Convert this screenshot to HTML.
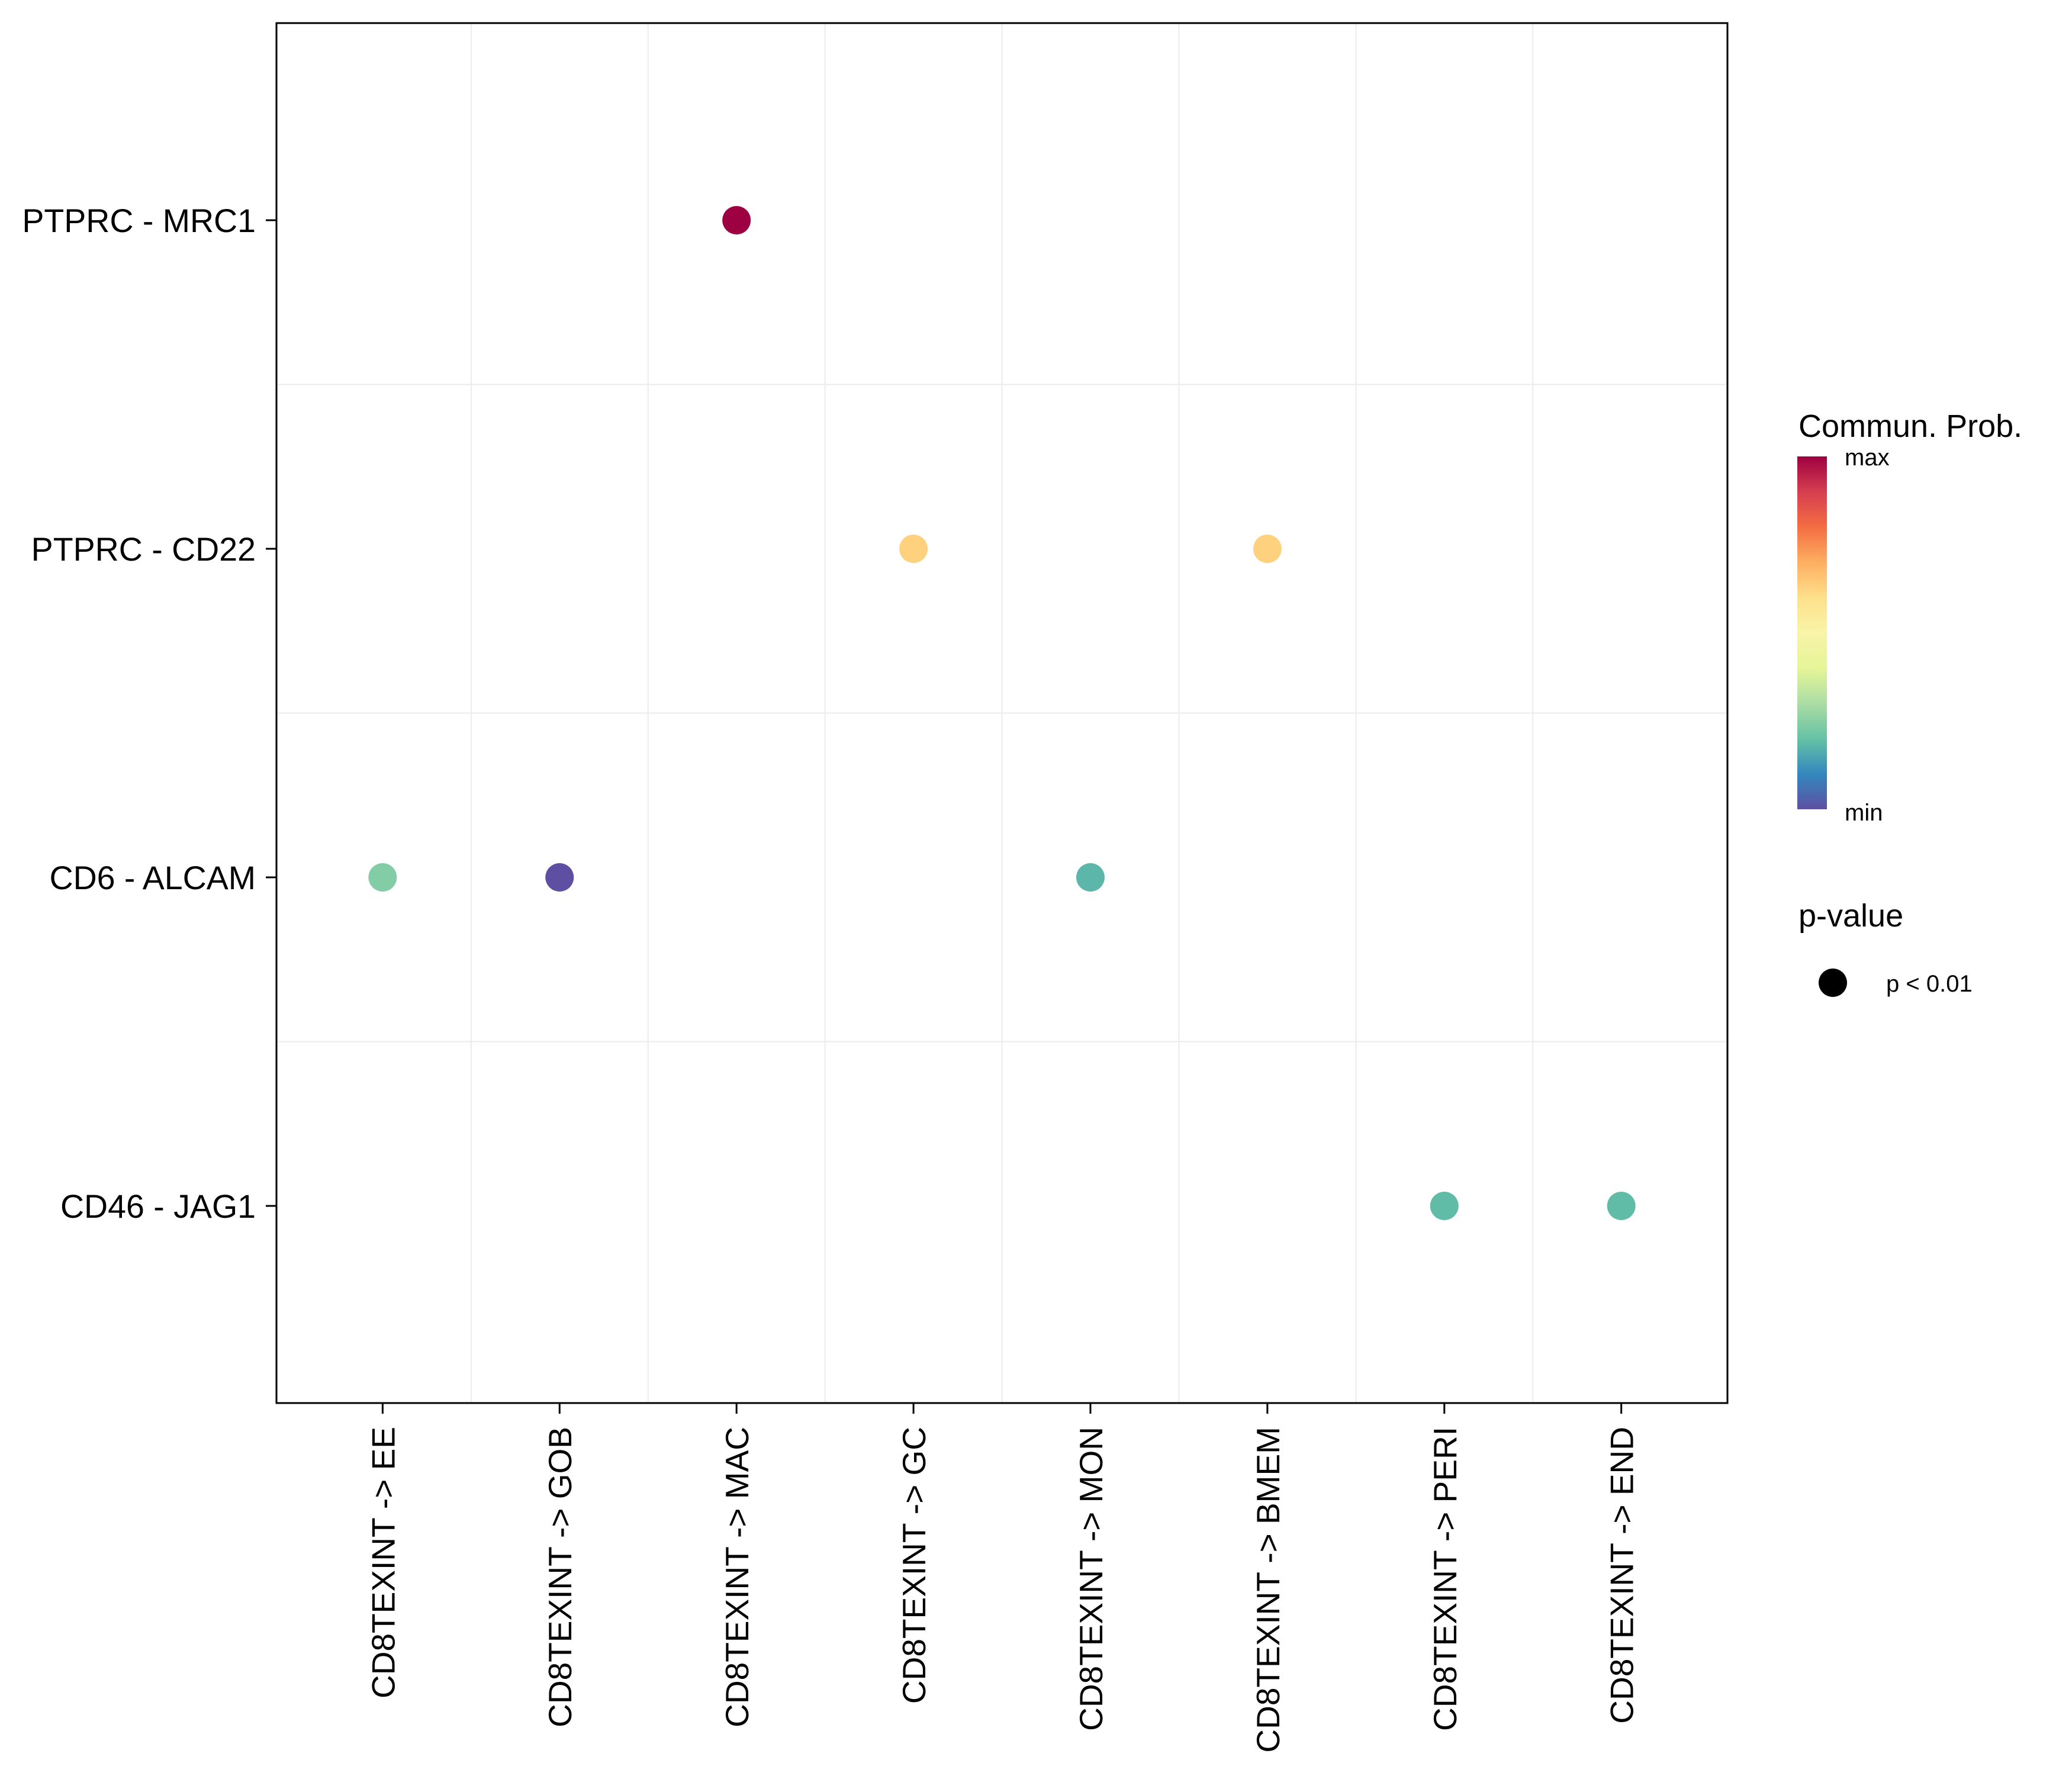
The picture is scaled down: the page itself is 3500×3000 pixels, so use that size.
<!DOCTYPE html>
<html><head><meta charset="utf-8"><style>
html,body{margin:0;padding:0;background:#fff;}
svg{display:block;font-family:"Liberation Sans",Arial,sans-serif;}
</style></head><body>
<svg id="chart" width="3500" height="3000" viewBox="0 0 3500 3000" xmlns="http://www.w3.org/2000/svg">
<defs>
<linearGradient id="spec" x1="0" y1="1" x2="0" y2="0">
<stop offset="0" stop-color="#5E4FA2"/><stop offset="0.1" stop-color="#3288BD"/><stop offset="0.2" stop-color="#66C2A5"/><stop offset="0.3" stop-color="#ABDDA4"/><stop offset="0.4" stop-color="#E6F598"/><stop offset="0.5" stop-color="#F8F4A8"/><stop offset="0.6" stop-color="#FEE08B"/><stop offset="0.7" stop-color="#FDAE61"/><stop offset="0.8" stop-color="#F46D43"/><stop offset="0.9" stop-color="#D53E4F"/><stop offset="1" stop-color="#9E0142"/>
</linearGradient>
</defs>
<rect x="467" y="39" width="2451" height="2331" fill="#fff"/>
<g id="grid"></g>
<g id="marks"></g>
<rect x="467" y="39" width="2451" height="2331" fill="none" stroke="#000" stroke-width="3"/>
<g id="yaxis"></g>
<g id="xaxis"></g>
<g>
<text x="3038" y="738" font-size="54">Commun. Prob.</text>
<rect x="3036" y="771" width="50" height="596" fill="url(#spec)"/>
<text x="3116" y="786" font-size="40">max</text>
<text x="3116" y="1386" font-size="40">min</text>
</g>
<g>
<text x="3038" y="1565" font-size="54">p-value</text>
<circle cx="3096" cy="1660" r="24" fill="#000"/>
<text x="3186" y="1675" font-size="40">p &lt; 0.01</text>
</g>
</svg>
<script>
const xCategories = ["CD8TEXINT -> EE","CD8TEXINT -> GOB","CD8TEXINT -> MAC","CD8TEXINT -> GC","CD8TEXINT -> MON","CD8TEXINT -> BMEM","CD8TEXINT -> PERI","CD8TEXINT -> END"];
const yCategories = ["PTPRC - MRC1","PTPRC - CD22","CD6 - ALCAM","CD46 - JAG1"];
const pointX = ["CD8TEXINT -> MAC","CD8TEXINT -> GC","CD8TEXINT -> BMEM","CD8TEXINT -> EE","CD8TEXINT -> GOB","CD8TEXINT -> MON","CD8TEXINT -> PERI","CD8TEXINT -> END"];
const pointY = ["PTPRC - MRC1","PTPRC - CD22","PTPRC - CD22","CD6 - ALCAM","CD6 - ALCAM","CD6 - ALCAM","CD46 - JAG1","CD46 - JAG1"];
const pointProb = [1.0, 0.63, 0.63, 0.24, 0.0, 0.18, 0.19, 0.19];

const NS = "http://www.w3.org/2000/svg";
const L=467,T=39,R=2918,B=2370;
const xu=(R-L)/(xCategories.length+0.2), yu=(B-T)/(yCategories.length+0.2);
function xPos(c){return L+(xCategories.indexOf(c)+0.6)*xu;}
function yPos(c){return T+(yCategories.indexOf(c)+0.6)*yu;}
const spec=["#5E4FA2","#3288BD","#66C2A5","#ABDDA4","#E6F598","#FFFFBF","#FEE08B","#FDAE61","#F46D43","#D53E4F","#9E0142"];
function colorOf(v){v=Math.max(0,Math.min(1,v))*10;const i=Math.min(9,Math.floor(v)),f=v-i;
 const a=spec[i],b=spec[i+1];const p=s=>[1,3,5].map(k=>parseInt(s.substr(k,2),16));
 const A=p(a),Bc=p(b);return "rgb("+A.map((x,k)=>Math.round(x+(Bc[k]-x)*f)).join(",")+")";}
function mk(tag,attrs,parent){const e=document.createElementNS(NS,tag);for(const k in attrs)e.setAttribute(k,attrs[k]);parent.appendChild(e);return e;}
const grid=document.getElementById('grid');
xCategories.forEach((c,i)=>{
 const x=xPos(c);
 if(i>0){const m=mk('line',{x1:x-xu/2,x2:x-xu/2,y1:T,y2:B,stroke:'#ebebeb','stroke-width':2},grid);
 
 }
});
yCategories.forEach((c,i)=>{
 const y=yPos(c);
 if(i>0){const m=mk('line',{x1:L,x2:R,y1:y-yu/2,y2:y-yu/2,stroke:'#ebebeb','stroke-width':2},grid);
 
 }
});
const marks=document.getElementById('marks');
pointProb.forEach((v,i)=>{
 const c=mk('circle',{cx:xPos(pointX[i]),cy:yPos(pointY[i]),r:24,fill:colorOf(v)},marks);
 
 
});
const ya=document.getElementById('yaxis');
yCategories.forEach(c=>{
 const y=yPos(c);
 const t=mk('line',{x1:L-18,x2:L,y1:y,y2:y,stroke:'#000','stroke-width':3},ya);
 
 
 const tx=mk('text',{x:L-35,y:y+20,'font-size':55.5,'text-anchor':'end'},ya);
 tx.textContent=c;
 
 
});
const xa=document.getElementById('xaxis');
xCategories.forEach(c=>{
 const x=xPos(c);
 const t=mk('line',{x1:x,x2:x,y1:B,y2:B+18,stroke:'#000','stroke-width':3},xa);
 
 
 const tx=mk('text',{x:0,y:0,'font-size':55,'text-anchor':'end',transform:'translate('+(x+20)+','+(B+40)+') rotate(-90)'},xa);
 tx.textContent=c;
 
 
});
</script>
</body></html>
